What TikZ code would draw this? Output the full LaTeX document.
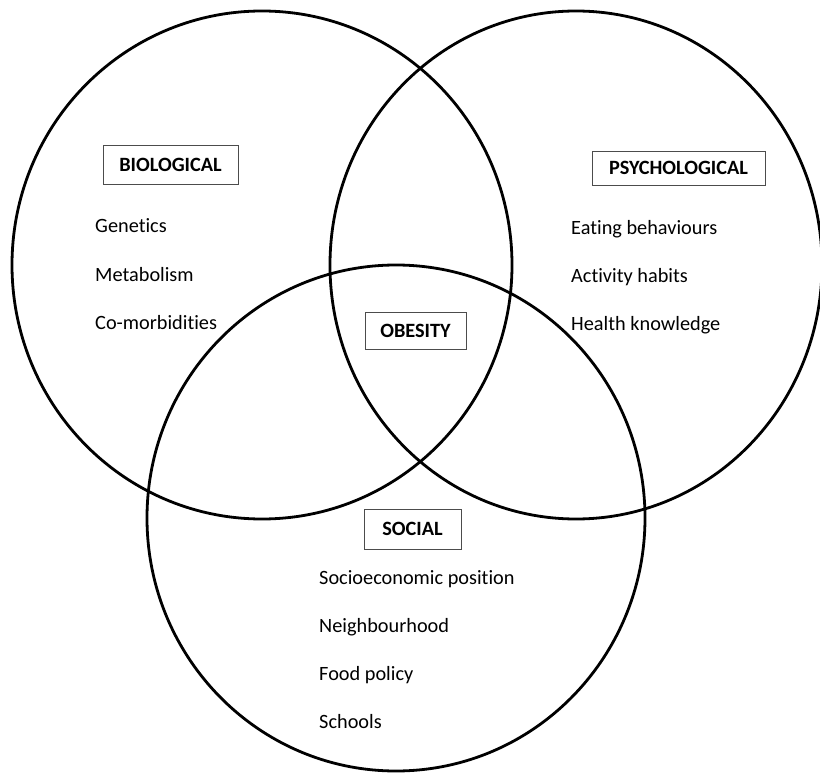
\documentclass[tikz,border=0pt]{standalone}
\usepackage{fontspec}
\setmainfont{Carlito}[Ligatures=NoCommon]
\usetikzlibrary{positioning}

\begin{document}
\begin{tikzpicture}[x=1pt, y=-1pt,
  font=\fontsize{20.3}{24}\selectfont,
  ring/.style={draw=black, line width=2.8pt},
  tag/.style={draw=black!70, line width=0.8pt, font=\fontsize{20.3}{24}\selectfont\bfseries, inner sep=0pt},
  item/.style={anchor=base west, inner sep=0pt}]
\useasboundingbox (0,0) rectangle (820,773);

% the three circles
\draw[ring] (262,265) ellipse [x radius=250, y radius=254];
\draw[ring] (576,265) ellipse [x radius=246, y radius=254];
\draw[ring] (396,518) ellipse [x radius=249, y radius=253];

% headings
\node[tag, minimum width=135pt, minimum height=39pt] (bio) at (170.5,164.5) {BIOLOGICAL};
\node[tag, minimum width=173pt, minimum height=34pt] (psy) at (678.5,168) {PSYCHOLOGICAL};
\node[tag, minimum width=101pt, minimum height=37pt] (obe) at (415.5,330.5) {OBESITY};
\node[tag, minimum width=97pt, minimum height=40pt] (soc) at (412.5,529) {SOCIAL};

% factors
\foreach \txt [count=\i] in {Genetics, Metabolism, Co-morbidities}
  \node[item] (bio\i) at (95,{233+48*(\i-1)}) {\txt};
\foreach \txt [count=\i] in {Eating behaviours, Activity habits, Health knowledge}
  \node[item] (psy\i) at (571,{234+48*(\i-1)}) {\txt};
\foreach \txt [count=\i] in {Socioeconomic position, Neighbourhood, Food policy, Schools}
  \node[item] (soc\i) at (319,{584+48*(\i-1)}) {\txt};
\end{tikzpicture}
\end{document}
